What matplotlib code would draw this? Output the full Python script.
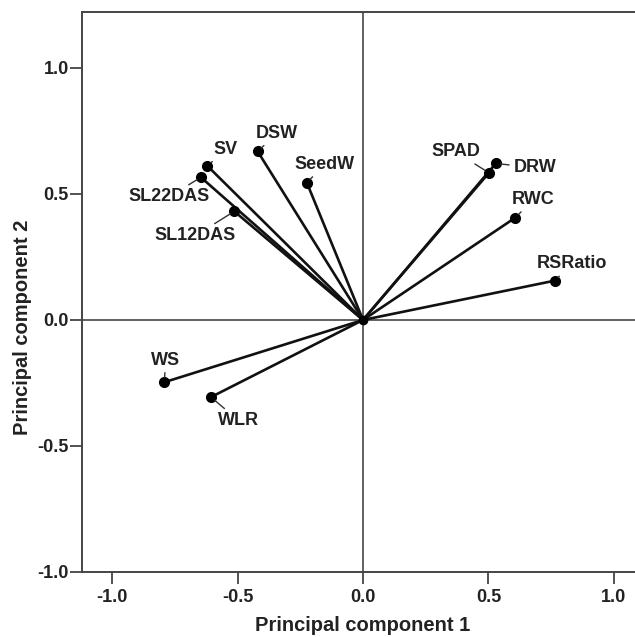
import matplotlib
matplotlib.use("Agg")
import matplotlib.pyplot as plt

# Data: loadings on PC1 and PC2
variables = ["SV", "SL22DAS", "SL12DAS", "DSW", "SeedW", "SPAD", "DRW", "RWC", "RSRatio", "WS", "WLR"]
pc1 = [-0.620, -0.646, -0.513, -0.420, -0.224, 0.502, 0.529, 0.607, 0.764, -0.792, -0.606]
pc2 = [0.611, 0.566, 0.431, 0.669, 0.545, 0.584, 0.621, 0.406, 0.156, -0.247, -0.306]
tick_vals = [-1.0, -0.5, 0.0, 0.5, 1.0]
tick_labels = ["-1.0", "-0.5", "0.0", "0.5", "1.0"]

# label offsets (points) relative to each marker
label_offsets = {
    "SV": (13, 12), "DSW": (14, 13), "SeedW": (13, 13), "SL22DAS": (-23, -14),
    "SL12DAS": (-28, -17.5), "SPAD": (-24, 15), "DRW": (28, -3), "RWC": (13, 13),
    "RSRatio": (12.5, 12), "WS": (1, 16), "WLR": (20, -17),
}

plt.rcParams['font.family'] = ['Liberation Sans', 'DejaVu Sans']
plt.rcParams['font.weight'] = 'bold'

fig = plt.figure(figsize=(6.35, 6.37), dpi=100)
ax = fig.add_axes([82 / 635, 65 / 637, 553 / 635, 560 / 637])
xmin, xmax = -1.12, 1.084
ymin, ymax = -1.0, 1.222
ax.set_xlim(xmin, xmax)
ax.set_ylim(ymin, ymax)

ax.axhline(0, color="#555555", lw=1.3, zorder=1)
ax.axvline(0, color="#555555", lw=1.3, zorder=1)

for name, x, y in zip(variables, pc1, pc2):
    ax.plot([0, x], [0, y], color="#111111", lw=1.9, zorder=2, solid_capstyle='round')
ax.plot(pc1, pc2, 'o', color="#000000", ms=7, zorder=3)
ax.plot([0], [0], 'o', color="#000000", ms=6, zorder=3)

for name, x, y in zip(variables, pc1, pc2):
    dx, dy = label_offsets[name]
    ax.annotate(name, xy=(x, y), xytext=(dx, dy), textcoords="offset points",
                ha="center", va="center", fontsize=13, fontweight="bold", color="#222222",
                arrowprops=dict(arrowstyle="-", color="#333333", lw=1.0, shrinkA=1, shrinkB=3.5))

ax.set_xticks(tick_vals)
ax.set_xticklabels(tick_labels)
ax.set_yticks(tick_vals)
ax.set_yticklabels(tick_labels)
ax.tick_params(axis="both", length=8.5, width=1.3, color="#444444", labelsize=13,
               labelcolor="#222222")
ax.tick_params(axis="x", pad=4)
ax.tick_params(axis="y", pad=1)
for lab in ax.get_xticklabels() + ax.get_yticklabels():
    lab.set_fontweight("bold")

for s in ["left", "bottom", "top"]:
    ax.spines[s].set_color("#444444")
    ax.spines[s].set_linewidth(1.4)
ax.spines["right"].set_visible(False)

ax.set_xlabel("Principal component 1", fontsize=14.5, fontweight="bold", color="#222222")
ax.set_ylabel("Principal component 2", fontsize=14.5, fontweight="bold", color="#222222")
ax.xaxis.set_label_coords((0 - xmin) / (xmax - xmin), -0.0786)
ax.yaxis.set_label_coords(-0.090, 0.4375)

fig.savefig("out.png", dpi=100)
